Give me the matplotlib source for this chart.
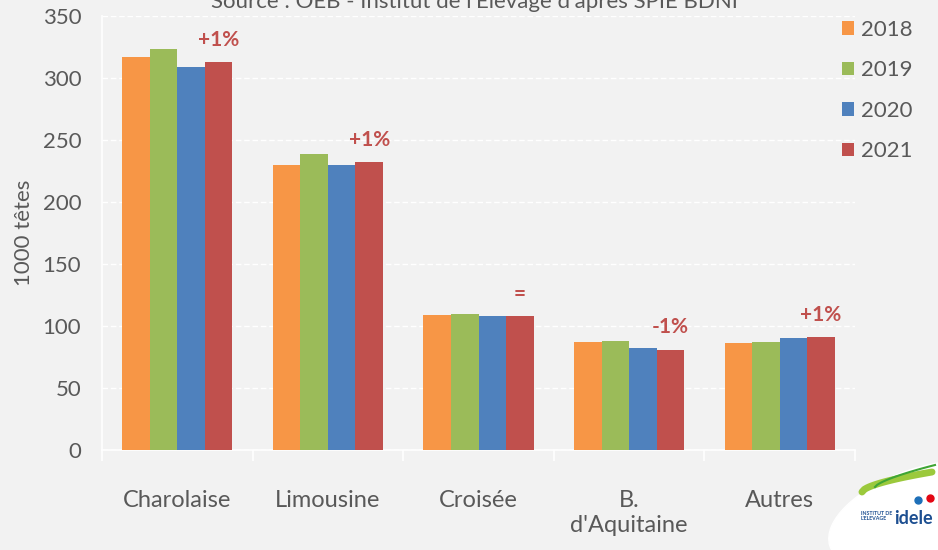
import matplotlib
matplotlib.use("Agg")
import matplotlib.pyplot as plt
import numpy as np
from matplotlib.patches import Ellipse

plt.rcParams['font.family'] = ['Lato', 'DejaVu Sans']

categories = ["Charolaise", "Limousine", "Croisée", "B.\nd'Aquitaine", "Autres"]
years = ["2018", "2019", "2020", "2021"]
v2018 = [317, 230, 109, 87, 86]
v2019 = [323, 239, 110, 88, 87]
v2020 = [309, 230, 108, 82, 90]
v2021 = [313, 232, 108, 81, 91]
evolution = ["+1%", "+1%", "=", "-1%", "+1%"]

colors = ["#F79646", "#9BBB59", "#4F81BD", "#C0504D"]
bg = "#F2F2F2"
txt = "#595959"

fig = plt.figure(figsize=(9.38, 5.5), dpi=100, facecolor=bg)
ax = fig.add_axes([102 / 938, 100 / 550, 753 / 938, 434 / 550], facecolor=bg)

x = np.arange(len(categories))
w = 0.183
series = [v2018, v2019, v2020, v2021]
for i, (vals, c, yr) in enumerate(zip(series, colors, years)):
    ax.bar(x + (i - 1.5) * w, vals, width=w, color=c, label=yr, zorder=3)

# variation labels above the 2021 bars
for xi, v, lab in zip(x, v2021, evolution):
    ax.annotate(lab, (xi + 1.5 * w, v), xytext=(0, 16), textcoords="offset points",
                ha="center", va="center", color="#C0504D", fontsize=15,
                fontweight="bold")

ax.set_xlim(-0.5, len(categories) - 0.5)
ax.set_ylim(0, 350)
ax.set_yticks(range(0, 351, 50))
ax.yaxis.grid(True, color="white", linestyle=(0, (4, 2)), linewidth=1, zorder=0)
ax.tick_params(axis="y", length=0, labelsize=16, labelcolor=txt, pad=15)

ax.set_xticks(x)
ax.set_xticklabels(categories, fontsize=17, color=txt, va="top")
ax.tick_params(axis="x", length=0, pad=29)
ax.set_xticks(np.arange(-0.5, len(categories)), minor=True)
ax.tick_params(axis="x", which="minor", length=8, color="white", width=1.2)

for s in ["top", "right"]:
    ax.spines[s].set_visible(False)
ax.spines["left"].set_color("white")
ax.spines["bottom"].set_color("white")
ax.spines["left"].set_linewidth(1.2)
ax.spines["bottom"].set_linewidth(1.2)

ax.set_ylabel("1000 têtes", fontsize=16, color=txt, labelpad=6)

fig.legend(loc="upper left", bbox_to_anchor=(842 / 938, 1 - 20 / 550),
           frameon=False, fontsize=16, labelcolor=txt, handlelength=0.55,
           handleheight=0.55, handletextpad=0.3, labelspacing=0.92,
           borderpad=0, borderaxespad=0)

fig.text(0.506, 1 - 2 / 550, "Source : OEB - Institut de l'Elevage d'après SPIE BDNI",
         ha="center", va="center", fontsize=16, color=txt)

# logo, bottom right
lg = fig.add_axes([0, 0, 1, 1], facecolor="none")
lg.set_xlim(0, 938)
lg.set_ylim(550, 0)
lg.axis("off")
lg.add_patch(Ellipse((925, 515), 200, 95, angle=-18, color="white", zorder=1))
t = np.linspace(0, 1, 30)
lg.plot(862 + 70 * t, 492 - 20 * t ** 0.6, color="#9BC93C", lw=5, solid_capstyle="round", zorder=2)
lg.plot(875 + 60 * t, 487 - 22 * t ** 0.7, color="#3FA535", lw=1.5, zorder=2)
lg.text(861, 516, "INSTITUT DE\nL'ELEVAGE", fontsize=3.8, fontweight="bold",
        color="#1D4F91", ha="left", va="center", linespacing=1.0, zorder=3)
lg.text(894, 518, "idele", fontsize=13, fontweight="bold", color="#1D4F91",
        ha="left", va="center", zorder=3)
lg.plot([918], [500], marker="o", ms=5, color="#1D6FB8", zorder=3)
lg.plot([930], [498], marker="o", ms=5, color="#E30613", zorder=3)

fig.savefig("out.png", dpi=100, facecolor=bg)
